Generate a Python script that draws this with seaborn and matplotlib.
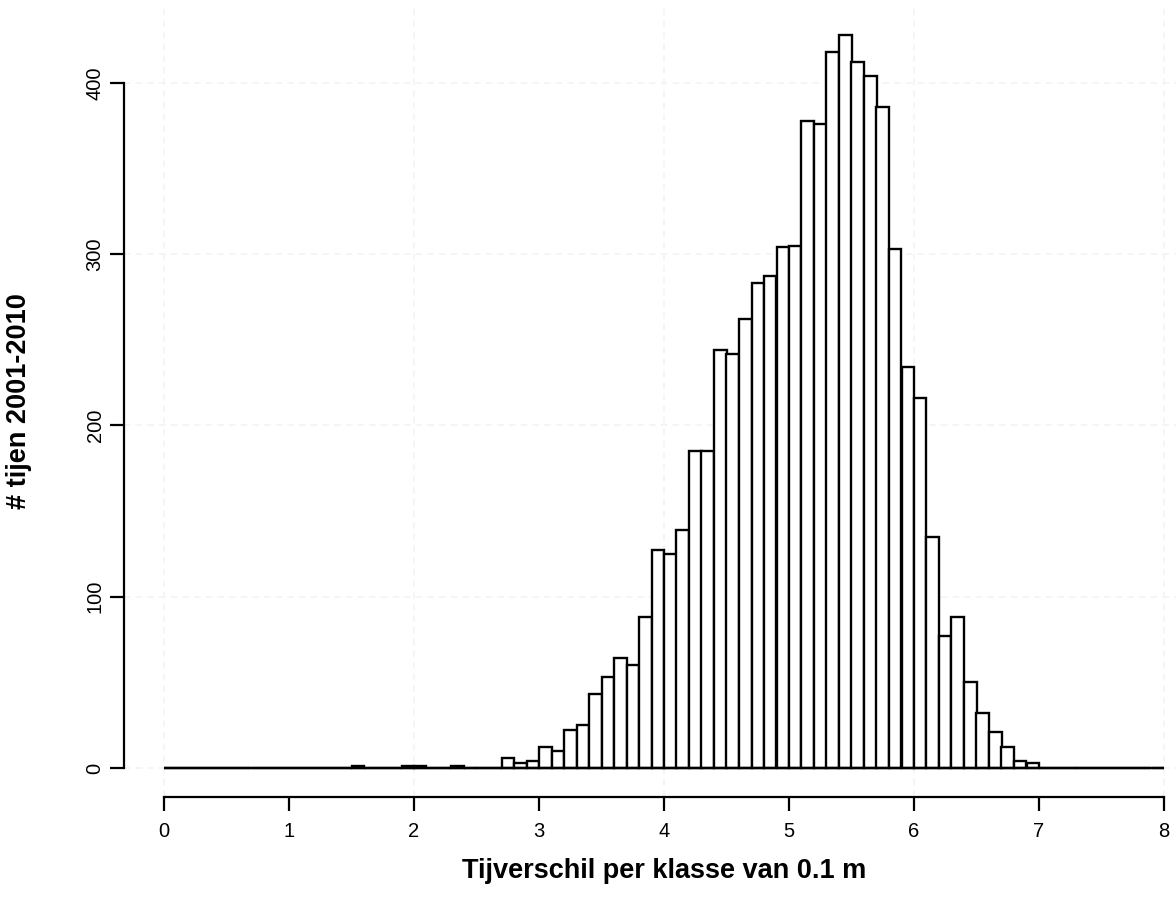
import matplotlib
matplotlib.use("Agg")
import matplotlib.pyplot as plt
import seaborn as sns
import numpy as np

# counts per 0.1 m class, 0.0-0.1 ... 7.9-8.0
counts = [0, 0, 0, 0, 0, 0, 0, 0, 0, 0,            # 0.0 - 0.9
          0, 0, 0, 0, 0, 1, 0, 0, 0, 1,            # 1.0 - 1.9
          1, 0, 0, 1, 0, 0, 0, 6, 3, 4,            # 2.0 - 2.9
          12, 10, 22, 25, 43, 53, 64, 60, 88, 127,  # 3.0 - 3.9
          125, 139, 185, 185, 244, 242, 262, 283, 287, 304,  # 4.0 - 4.9
          305, 378, 376, 418, 428, 412, 404, 386, 303, 234,  # 5.0 - 5.9
          216, 135, 77, 88, 50, 32, 21, 12, 4, 3,   # 6.0 - 6.9
          0, 0, 0, 0, 0, 0, 0, 0, 0, 0]             # 7.0 - 7.9
bin_edges = [round(i * 0.1, 1) for i in range(81)]
bin_centers = [e + 0.05 for e in bin_edges[:-1]]
x_ticks = [0, 1, 2, 3, 4, 5, 6, 7, 8]
y_ticks = [0, 100, 200, 300, 400]

sns.set_style("white")
plt.rcParams['font.family'] = ['Liberation Sans', 'DejaVu Sans']
plt.rcParams['text.color'] = 'black'
plt.rcParams['axes.labelcolor'] = 'black'

fig = plt.figure(figsize=(11.76, 9.01), dpi=100)
# R style plot region (extends a bit past the right edge, like the original)
ax = fig.add_axes([124 / 1176, (901 - 797.3) / 901, 1080 / 1176, (797.3 - 5.7) / 901])

# very faint background grid
for gx in [0, 2, 4, 6, 8]:
    ax.axvline(gx, color="#f4f4f4", lw=1.2, ls=(0, (4, 3)), zorder=0)
for gy in y_ticks:
    ax.axhline(gy, color="#f4f4f4", lw=1.2, ls=(0, (4, 3)), zorder=0)

sns.histplot(x=bin_centers, weights=counts, bins=bin_edges, stat="count",
             element="bars", fill=True, color="white", edgecolor="black",
             linewidth=1.7, alpha=1, ax=ax, zorder=2)
ax.hlines(0, bin_edges[0], bin_edges[-1], color="black", lw=1.7, zorder=3)

ax.set_xlim(-0.32, 8.32)
ax.set_ylim(-17.12, 445.12)

for s in ["top", "right"]:
    ax.spines[s].set_visible(False)
ax.spines["left"].set_bounds(0, 400)
ax.spines["bottom"].set_bounds(0, 8)
for s in ["left", "bottom"]:
    ax.spines[s].set_linewidth(1.6)
    ax.spines[s].set_color("black")

ax.set_xticks(x_ticks)
ax.set_yticks(y_ticks)
ax.set_yticklabels([str(v) for v in y_ticks], rotation=90, va="center")
ax.tick_params(axis="both", direction="out", length=10, width=1.6,
               labelsize=14.5, color="black", labelcolor="black",
               bottom=True, left=True)
ax.tick_params(axis="x", pad=8)
ax.tick_params(axis="y", pad=4)

ax.set_xlabel("Tijverschil per klasse van 0.1 m", fontsize=19.5,
              fontweight="bold", color="black")
ax.set_ylabel("# tijen 2001-2010", fontsize=19.5, fontweight="bold",
              color="black")
ax.xaxis.set_label_coords(0.5, -0.077)
ax.yaxis.set_label_coords(-0.085, 0.5)

fig.savefig("out.png", dpi=100)
